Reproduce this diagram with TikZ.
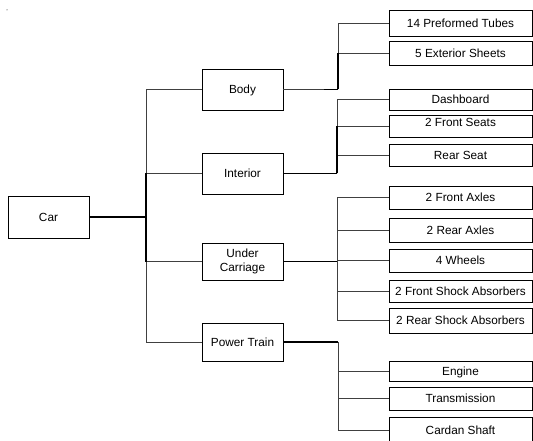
\documentclass[tikz,border=0pt]{standalone}
\usepackage{fontspec}
\setmainfont{Liberation Sans}
\begin{document}
\begin{tikzpicture}[x=1pt,y=-1pt,
  boxbase/.style={draw=black,line width=0.8pt,fill=white,inner sep=0pt,align=center,
    font=\fontsize{11.8}{14}\selectfont},
  box/.style={boxbase,text height=8.5pt,text depth=0pt},
  mid/.style={box,minimum width=81pt},
  leaf/.style={box,minimum width=143pt},
  conn/.style={draw=black!75,line width=0.8pt},
  heavy/.style={draw=black,line width=1.6pt}]
\useasboundingbox (0,0) rectangle (533,441);
\fill (7,10) circle (0.5pt);
% nodes
\node[box,minimum width=81pt,minimum height=42pt] (car) at (48.5,217) {Car};
\node[mid,minimum height=41pt] (body) at (242.5,89.5) {Body};
\node[mid,minimum height=41pt] (int) at (242.5,173.5) {Interior};
\node[boxbase,minimum width=81pt,minimum height=37pt] (uc) at (242.5,261.5) {Under\\Carriage};
\node[mid,minimum height=38pt] (pt) at (242.5,342) {Power Train};
\node[leaf,minimum height=26pt] (l1) at (460.5,23) {14 Preformed Tubes};
\node[leaf,minimum height=24pt] (l2) at (460.5,53) {5 Exterior Sheets};
\node[leaf,minimum height=21pt] (l3) at (460.5,99.5) {Dashboard};
\node[leaf,minimum height=22pt,text depth=8.4pt] (l4) at (460.5,126) {2 Front Seats};
\node[leaf,minimum height=22pt] (l5) at (460.5,155) {Rear Seat};
\node[leaf,minimum height=23pt] (l6) at (460.5,197.5) {2 Front Axles};
\node[leaf,minimum height=24pt] (l7) at (460.5,230) {2 Rear Axles};
\node[leaf,minimum height=23pt] (l8) at (460.5,260.5) {4 Wheels};
\node[leaf,minimum height=22pt] (l9) at (460.5,291) {2 Front Shock Absorbers};
\node[leaf,minimum height=25pt] (l10) at (460.5,320.5) {2 Rear Shock Absorbers};
\node[leaf,minimum height=20pt] (l11) at (460.5,371) {Engine};
\node[leaf,minimum height=23pt] (l12) at (460.5,398.5) {Transmission};
\node[leaf,minimum height=26pt] (l13) at (460.5,430) {Cardan Shaft};
% junction coordinates
\coordinate (tr) at (146,217);
\coordinate (bj) at (338,89.5);
\coordinate (ij) at (337,173.5);
\coordinate (uj) at (337,261.5);
\coordinate (pj) at (338,342);
% car level
\draw[heavy] (car.east) -- (tr);
\draw[conn] (tr) |- (body.west);
\draw[conn] (tr) |- (pt.west);
\draw[conn] (tr) |- (int.west);
\draw[conn] (tr) |- (uc.west);
\draw[heavy,line width=1.2pt] (146,173.5) -- (146,261.5);
% body
\draw[conn] (body.east) -- (bj);
\draw[heavy] (324,89.5) -- (bj);
\draw[conn] (bj) |- (l1.west);
\draw[conn] (bj) |- (l2.west);
\draw[heavy,line width=1.2pt] (bj) -- (338,53);
% interior
\draw[heavy] (int.east) -- (ij);
\draw[conn] (ij) |- (l3.west);
\draw[conn] (ij) |- (l4.west);
\draw[conn] (ij) |- (l5.west);
\draw[heavy] (ij) -- (337,126);
% under carriage
\draw[heavy,line width=1.2pt] (uc.east) -- (uj);
\draw[conn] (uj) |- (l6.west);
\draw[conn] (uj) |- (l7.west);
\draw[conn] (uj) |- (l8.west);
\draw[conn] (uj) |- (l9.west);
\draw[conn] (uj) |- (l10.west);
% power train
\draw[heavy] (pt.east) -- (pj);
\draw[conn] (pj) |- (l11.west);
\draw[conn] (pj) |- (l12.west);
\draw[conn] (pj) |- (l13.west);
\end{tikzpicture}
\end{document}
